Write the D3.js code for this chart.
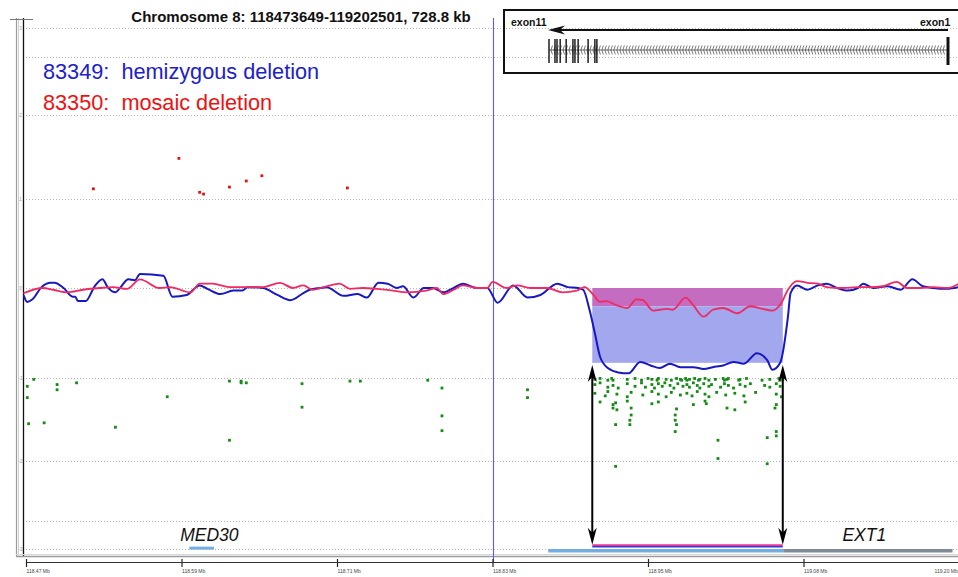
<!DOCTYPE html>
<html><head><meta charset="utf-8">
<script src="https://cdn.jsdelivr.net/npm/d3@7"></script>
<style>
body{margin:0;background:#fff}
svg{display:block;font-family:"Liberation Sans",Arial,sans-serif}
</style>
</head><body>
<svg id="chart" width="958" height="577"></svg>
<script>
// ---------------- DATA ----------------
const titleText = "Chromosome 8: 118473649-119202501, 728.8 kb";
const sampleLabels = ["83349:  hemizygous deletion", "83350:  mosaic deletion"];
const xTickValues = [118.47, 118.59, 118.71, 118.83, 118.95, 119.07, 119.19];
const xTickLabels = ["118.47 Mb", "118.59 Mb", "118.71 Mb", "118.83 Mb", "118.95 Mb", "119.08 Mb", "119.20 Mb"];
const gridValues = [2.99, 2.66, 1.99, 1.02, 0, -1.03, -1.99, -2.68, -3.0];
const yTickLabels = ["3", "", "2", "1", "0", "-1", "-2", "", "-3"];

// smoothed log2 ratio, sample 83349 (blue)
const blueLine = [[118.468,-0.08],[118.471,-0.16],[118.475,-0.13],[118.482,0.01],[118.489,0.06],[118.492,0.06],[118.499,0],[118.506,-0.10],[118.508,-0.10],[118.510,-0.15],[118.516,-0.15],[118.523,0.02],[118.529,0.10],[118.533,0.01],[118.539,-0.05],[118.543,0.01],[118.549,0.10],[118.554,0.09],[118.558,0.16],[118.576,0.14],[118.583,-0.10],[118.594,-0.08],[118.604,0.03],[118.610,-0.01],[118.620,-0.07],[118.630,-0.03],[118.637,-0.03],[118.641,0.01],[118.653,0],[118.664,-0.08],[118.674,-0.14],[118.684,-0.06],[118.689,-0.02],[118.697,0],[118.702,0.01],[118.715,-0.09],[118.726,-0.07],[118.733,-0.11],[118.742,0.06],[118.749,0.05],[118.756,0],[118.761,0.02],[118.769,-0.11],[118.777,0],[118.784,0],[118.792,-0.05],[118.800,0],[118.807,0.05],[118.818,0],[118.826,0],[118.834,-0.17],[118.846,0.03],[118.857,-0.11],[118.867,-0.08],[118.880,0.05],[118.888,0.01],[118.896,0],[118.900,-0.02],[118.905,-0.26],[118.909,-0.52],[118.913,-0.79],[118.919,-0.92],[118.927,-0.97],[118.935,-0.98],[118.944,-0.85],[118.952,-0.89],[118.959,-0.92],[118.967,-0.87],[118.975,-0.91],[118.985,-0.91],[118.993,-0.93],[119.000,-0.91],[119.008,-0.89],[119.016,-0.85],[119.024,-0.87],[119.034,-0.75],[119.042,-0.83],[119.046,-0.94],[119.052,-0.86],[119.058,-0.33],[119.060,-0.06],[119.065,0.03],[119.073,-0.02],[119.081,0.03],[119.088,0.05],[119.096,0],[119.104,-0.03],[119.112,0],[119.116,0.05],[119.124,0],[119.135,0.02],[119.145,-0.02],[119.154,0.10],[119.162,0.02],[119.170,0],[119.181,-0.01],[119.190,0.01]];

// smoothed log2 ratio, sample 83350 (red)
const redLine = [[118.468,-0.06],[118.483,0],[118.491,-0.02],[118.502,-0.05],[118.514,-0.02],[118.527,0],[118.537,0.01],[118.548,-0.01],[118.558,0.10],[118.573,0],[118.581,0.01],[118.597,-0.05],[118.604,0.05],[118.614,0.05],[118.627,0.01],[118.635,0.01],[118.653,0.01],[118.666,0.06],[118.676,0],[118.684,0.03],[118.691,-0.02],[118.702,0.02],[118.712,0.05],[118.720,-0.01],[118.730,0],[118.741,-0.01],[118.753,-0.03],[118.764,-0.05],[118.779,-0.03],[118.787,0],[118.792,-0.07],[118.800,-0.02],[118.807,0.03],[118.818,0],[118.826,0],[118.830,0.07],[118.841,0],[118.849,0.03],[118.859,0],[118.872,0],[118.884,-0.05],[118.895,-0.03],[118.901,0.01],[118.908,-0.08],[118.913,-0.16],[118.918,-0.15],[118.926,-0.20],[118.934,-0.23],[118.941,-0.13],[118.946,-0.14],[118.954,-0.26],[118.959,-0.25],[118.965,-0.24],[118.969,-0.25],[118.979,-0.11],[118.985,-0.20],[118.993,-0.33],[119.000,-0.25],[119.008,-0.23],[119.019,-0.29],[119.029,-0.21],[119.036,-0.23],[119.046,-0.26],[119.053,-0.17],[119.058,-0.02],[119.065,0.08],[119.073,0.06],[119.081,0.05],[119.088,0.01],[119.100,0],[119.112,0.01],[119.121,0.01],[119.131,0.02],[119.142,0.07],[119.150,0],[119.160,0],[119.170,0.01],[119.181,0],[119.190,0.05]];

// high probes (red)
const redPoints = [[118.522,1.14],[118.588,1.49],[118.604,1.10],[118.607,1.08],[118.627,1.16],[118.640,1.23],[118.652,1.29],[118.718,1.15]];

// low probes outside the deletion (green)
const greenFlank = [[118.471,-1.13],[118.476,-1.05],[118.471,-1.26],[118.472,-1.56],[118.484,-1.55],[118.494,-1.11],[118.494,-1.17],[118.509,-1.09],[118.539,-1.60],[118.579,-1.25],[118.627,-1.07],[118.627,-1.75],[118.636,-1.07],[118.636,-1.09],[118.640,-1.09],[118.683,-1.10],[118.683,-1.37],[118.720,-1.07],[118.728,-1.07],[118.780,-1.06],[118.791,-1.15],[118.791,-1.47],[118.791,-1.64],[118.857,-1.17],[118.857,-1.26]];

// low probes inside the deletion (green)
const greenDeleted = [
[118.909,-1.05],[118.913,-1.04],[118.919,-1.06],[118.922,-1.04],[118.923,-1.06],[118.934,-1.05],[118.940,-1.04],[118.945,-1.06],[118.950,-1.04],[118.953,-1.05],[118.957,-1.06],[118.958,-1.04],[118.964,-1.05],[118.968,-1.06],[118.972,-1.04],[118.975,-1.05],[118.976,-1.06],[118.979,-1.04],[118.980,-1.06],[118.982,-1.05],[118.986,-1.04],[118.989,-1.06],[118.990,-1.05],[118.994,-1.04],[118.997,-1.06],[119.002,-1.05],[119.008,-1.04],[119.009,-1.06],[119.011,-1.05],[119.012,-1.04],[119.020,-1.06],[119.021,-1.05],[119.026,-1.04],[119.038,-1.06],[119.044,-1.05],[119.051,-1.04],[119.052,-1.06],[119.054,-1.05],
[118.909,-1.11],[118.913,-1.09],[118.919,-1.14],[118.923,-1.12],[118.927,-1.15],[118.934,-1.10],[118.940,-1.13],[118.945,-1.09],[118.948,-1.14],[118.953,-1.11],[118.955,-1.15],[118.958,-1.10],[118.961,-1.13],[118.963,-1.09],[118.967,-1.12],[118.970,-1.15],[118.973,-1.10],[118.977,-1.13],[118.980,-1.11],[118.982,-1.14],[118.985,-1.09],[118.988,-1.12],[118.990,-1.15],[118.993,-1.10],[118.997,-1.13],[118.999,-1.11],[119.006,-1.14],[119.009,-1.10],[119.012,-1.12],[119.016,-1.15],[119.021,-1.11],[119.025,-1.13],[119.029,-1.10],[119.040,-1.12],[119.044,-1.14],[119.049,-1.10],[119.052,-1.13],
[118.909,-1.21],[118.917,-1.24],[118.919,-1.19],[118.926,-1.22],[118.934,-1.25],[118.937,-1.20],[118.946,-1.23],[118.953,-1.19],[118.958,-1.22],[118.964,-1.25],[118.968,-1.20],[118.975,-1.23],[118.980,-1.21],[118.984,-1.24],[118.988,-1.19],[118.994,-1.22],[118.997,-1.25],[119.003,-1.20],[119.010,-1.23],[119.017,-1.21],[119.024,-1.24],[119.033,-1.20],[119.049,-1.22],[119.053,-1.25],
[118.913,-1.31],[118.923,-1.34],[118.925,-1.32],[118.934,-1.30],[118.953,-1.33],[118.958,-1.31],[118.985,-1.34],[118.994,-1.30],[118.995,-1.33],[119.025,-1.31],[119.049,-1.34],
[118.923,-1.38],[118.926,-1.40],[118.937,-1.38],[118.972,-1.39],[119.011,-1.38],[119.017,-1.40],[119.048,-1.38],
[118.937,-1.46],[118.971,-1.46],[118.936,-1.52],[118.971,-1.52],[118.925,-1.57],[118.936,-1.57],[118.972,-1.57],[118.971,-1.65],[119.049,-1.65],[119.049,-1.70],[119.042,-1.72],[119.004,-1.75],[119.004,-1.96],[119.042,-2.02],[118.925,-2.05]];

const deletionRange = [118.907, 119.054];
const mosaicLevel = -0.21;   // bottom of mosaic band
const hemiLevel = -0.86;     // bottom of hemizygous band
const arrowRange = [-0.885, -2.95];

const geneNames = ["MED30", "EXT1"];
const geneStarts = [118.596, 118.873];
const geneEnds = [118.615, 119.185];
const geneLabelAt = [118.589, 119.100];
const ext1CodingEnd = 119.055;

// inset: exon positions as % of the EXT1 transcript length (exon11 ... exon1)
const exonOffsets = [0, 1.5, 2.0, 2.8, 4.3, 6.0, 6.5, 7.3, 9.8, 11.5, 12.0, 100];

// ---------------- DRAW ----------------
const svg = d3.select("#chart");
svg.append("rect").attr("width", 958).attr("height", 577).attr("fill", "#fff");

const x = d3.scaleLinear().domain([118.47, 119.19]).range([26, 959]);
const y = d3.scaleLinear().domain([-3, 3]).range([549, 27]);
const left = 23, right = 958;

svg.append("clipPath").attr("id", "plotclip").append("rect")
  .attr("x", left).attr("y", 0).attr("width", right - left).attr("height", 560);

// grid
svg.append("g").selectAll("line").data(gridValues).join("line")
  .attr("x1", left).attr("x2", right)
  .attr("y1", d => Math.round(y(d)) + 0.5).attr("y2", d => Math.round(y(d)) + 0.5)
  .attr("stroke", "#b8b8b8").attr("stroke-width", 1).attr("stroke-dasharray", "1,2");

// left frame
svg.append("line").attr("x1", 16.5).attr("x2", 16.5).attr("y1", 18).attr("y2", 557).attr("stroke", "#9a9a9a").attr("stroke-width", 1.2);
svg.append("line").attr("x1", 18.5).attr("x2", 18.5).attr("y1", 18).attr("y2", 557).attr("stroke", "#d0d0d0").attr("stroke-width", 1);
svg.append("line").attr("x1", 23.5).attr("x2", 23.5).attr("y1", 18).attr("y2", 557).attr("stroke", "#111").attr("stroke-width", 1.3);
svg.append("line").attr("x1", 10).attr("x2", 33).attr("y1", 19.5).attr("y2", 19.5).attr("stroke", "#777").attr("stroke-width", 1);
svg.append("line").attr("x1", 16).attr("x2", right).attr("y1", 556.5).attr("y2", 556.5).attr("stroke", "#9a9a9a").attr("stroke-width", 1.5);
svg.append("line").attr("x1", 16).attr("x2", right).attr("y1", 554.5).attr("y2", 554.5).attr("stroke", "#d8d8d8").attr("stroke-width", 1);

// tiny y labels
svg.append("g").selectAll("text").data(gridValues).join("text")
  .attr("x", 20.5).attr("y", d => y(d) + 2)
  .attr("text-anchor", "middle").attr("font-size", 4.5).attr("fill", "#999")
  .text((d, i) => yTickLabels[i]);

// deletion bands
svg.append("rect")
  .attr("x", x(deletionRange[0])).attr("width", x(deletionRange[1]) - x(deletionRange[0]))
  .attr("y", y(0)).attr("height", y(mosaicLevel) - y(0))
  .attr("fill", "#c46cc0");
svg.append("rect")
  .attr("x", x(deletionRange[0])).attr("width", x(deletionRange[1]) - x(deletionRange[0]))
  .attr("y", y(mosaicLevel)).attr("height", y(hemiLevel) - y(mosaicLevel))
  .attr("fill", "#a3a7ee");

// vertical cursor line
svg.append("line").attr("x1", Math.round(x(118.83)) + 0.5).attr("x2", Math.round(x(118.83)) + 0.5)
  .attr("y1", 18).attr("y2", 562).attr("stroke", "#5a5aff").attr("stroke-width", 1.1);

// points
const pts = svg.append("g").attr("clip-path", "url(#plotclip)");
pts.selectAll("rect.g").data(greenFlank.concat(greenDeleted)).join("rect")
  .attr("x", d => x(d[0]) - 1.4).attr("y", d => y(d[1]) - 1.4)
  .attr("width", 2.8).attr("height", 2.8).attr("fill", "#168a16");
pts.selectAll("rect.r").data(redPoints).join("rect")
  .attr("x", d => x(d[0]) - 1.4).attr("y", d => y(d[1]) - 1.4)
  .attr("width", 2.8).attr("height", 2.8).attr("fill", "#e81010");

// smoothed lines
const line = d3.line().x(d => x(d[0])).y(d => y(d[1])).curve(d3.curveMonotoneX);
const lines = svg.append("g").attr("clip-path", "url(#plotclip)");
lines.append("path").datum(blueLine).attr("d", line).attr("fill", "none")
  .attr("stroke", "#1818c0").attr("stroke-width", 2).attr("stroke-linejoin", "round");
lines.append("path").datum(redLine).attr("d", line).attr("fill", "none")
  .attr("stroke", "#f02a62").attr("stroke-width", 1.8).attr("stroke-linejoin", "round");

// double-headed arrows
deletionRange.forEach(pos => {
  const ax = x(pos), y1 = y(arrowRange[0]), y2 = y(arrowRange[1]);
  svg.append("line").attr("x1", ax).attr("x2", ax).attr("y1", y1 + 10).attr("y2", y2 - 10)
    .attr("stroke", "#000").attr("stroke-width", 2);
  svg.append("path").attr("d", `M${ax},${y1}L${ax - 4.5},${y1 + 17}L${ax},${y1 + 12}L${ax + 4.5},${y1 + 17}Z`).attr("fill", "#000");
  svg.append("path").attr("d", `M${ax},${y2}L${ax - 4.5},${y2 - 17}L${ax},${y2 - 12}L${ax + 4.5},${y2 - 17}Z`).attr("fill", "#000");
});

// gene track
const trackY = y(-3.02);
svg.append("line").attr("x1", x(geneStarts[1])).attr("x2", x(ext1CodingEnd)).attr("y1", trackY).attr("y2", trackY)
  .attr("stroke", "#74aee0").attr("stroke-width", 3.5);
svg.append("line").attr("x1", x(ext1CodingEnd)).attr("x2", x(geneEnds[1])).attr("y1", trackY).attr("y2", trackY)
  .attr("stroke", "#7f8c96").attr("stroke-width", 3.5);
svg.append("line").attr("x1", x(geneStarts[0])).attr("x2", x(geneEnds[0])).attr("y1", y(-2.99)).attr("y2", y(-2.99))
  .attr("stroke", "#74aee0").attr("stroke-width", 3);
// deletion bar
svg.append("line").attr("x1", x(deletionRange[0])).attr("x2", x(deletionRange[1])).attr("y1", y(-2.975)).attr("y2", y(-2.975))
  .attr("stroke", "#3a3ac8").attr("stroke-width", 1.5);
svg.append("line").attr("x1", x(deletionRange[0])).attr("x2", x(deletionRange[1])).attr("y1", y(-2.955)).attr("y2", y(-2.955))
  .attr("stroke", "#e8349c").attr("stroke-width", 1.8);

svg.append("g").selectAll("text").data(geneNames).join("text")
  .attr("x", (d, i) => x(geneLabelAt[i])).attr("y", 541)
  .attr("font-size", 17.5).attr("font-style", "italic").attr("fill", "#111")
  .text(d => d);

// x axis
const xAxis = d3.axisBottom(x).tickValues(xTickValues).tickSize(0).tickFormat((d, i) => xTickLabels[i]);
const ax = svg.append("g").attr("transform", "translate(0,562)").call(xAxis);
ax.select(".domain").remove();
svg.append("line").attr("x1", 26).attr("x2", right).attr("y1", 562.5).attr("y2", 562.5).attr("stroke", "#333").attr("stroke-width", 1);
ax.selectAll(".tick").append("line").attr("y1", -3).attr("y2", 5).attr("stroke", "#222").attr("stroke-width", 1.2);
ax.selectAll(".tick text").attr("text-anchor", "start").attr("y", 9).attr("dy", "0.3em")
  .attr("font-size", 5).attr("fill", "#444").attr("font-family", "Liberation Sans, Arial, sans-serif")
  .attr("dx", (d, i) => i === xTickValues.length - 1 ? -25 : 0);

// title
svg.append("text").attr("x", 301).attr("y", 22).attr("text-anchor", "middle")
  .attr("font-size", 15).attr("font-weight", "bold").attr("fill", "#111").text(titleText);

// legend labels
const legendColors = ["#2020cc", "#ee1111"];
svg.append("g").selectAll("text").data(sampleLabels).join("text")
  .attr("x", 43).attr("y", (d, i) => 79 + i * 31)
  .attr("font-size", 21.7).attr("fill", (d, i) => legendColors[i])
  .style("white-space", "pre").text(d => d);

// inset gene model
const ins = svg.append("g");
const ix = d3.scaleLinear().domain([0, 100]).range([549, 948]);
ins.append("rect").attr("x", 504).attr("y", 10).attr("width", 470).attr("height", 63)
  .attr("fill", "none").attr("stroke", "#111").attr("stroke-width", 2);
ins.append("text").attr("x", 511).attr("y", 26).attr("font-size", 10.5).attr("font-weight", "bold").attr("fill", "#111").text("exon11");
ins.append("text").attr("x", 920).attr("y", 26).attr("font-size", 10.5).attr("font-weight", "bold").attr("fill", "#111").text("exon1");
// strand arrow
ins.append("line").attr("x1", ix(0) + 8).attr("x2", ix(100)).attr("y1", 30).attr("y2", 30).attr("stroke", "#111").attr("stroke-width", 1.8);
ins.append("path").attr("d", `M${ix(0) - 1},30L${ix(0) + 16},25.5L${ix(0) + 11},30L${ix(0) + 16},34.5Z`).attr("fill", "#111");
// intron line with chevrons
ins.append("line").attr("x1", ix(0)).attr("x2", ix(100)).attr("y1", 50).attr("y2", 50).attr("stroke", "#444").attr("stroke-width", 0.8);
ins.append("g").selectAll("path").data(d3.range(0.5, 99.5, 0.75)).join("path")
  .attr("d", p => `M${ix(p) + 1.5},45.5L${ix(p)},50L${ix(p) + 1.5},54.5`)
  .attr("fill", "none").attr("stroke", "#444").attr("stroke-width", 0.7);
ins.append("g").selectAll("line").data(exonOffsets).join("line")
  .attr("x1", p => ix(p)).attr("x2", p => ix(p))
  .attr("y1", (p, i) => i === exonOffsets.length - 1 ? 37 : 39)
  .attr("y2", (p, i) => i === exonOffsets.length - 1 ? 65 : 63)
  .attr("stroke", "#111").attr("stroke-width", (p, i) => i === exonOffsets.length - 1 ? 3 : 1.4);
</script>
</body></html>
